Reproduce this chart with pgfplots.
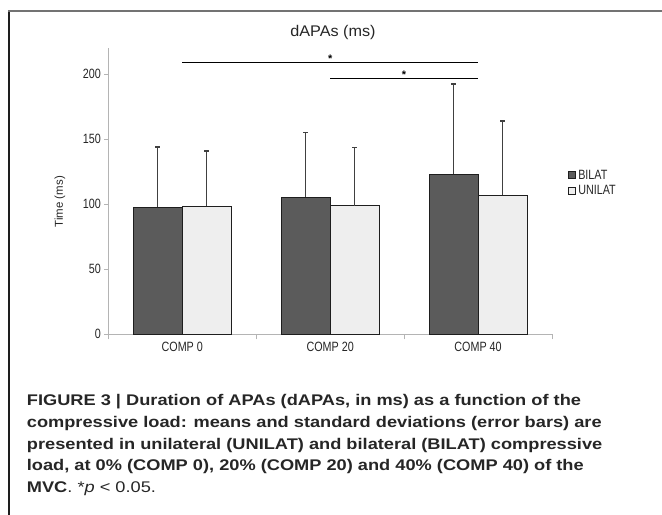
\documentclass[border=0pt]{standalone}
\usepackage{fontspec}
\setmainfont{Liberation Sans}
\newfontfamily\narrowfont[FakeStretch=0.8]{Liberation Sans}
\newfontfamily\titlefont[FakeStretch=1.05]{Liberation Sans}
\newfontfamily\capfont[FakeStretch=1.18]{Liberation Sans}
\usepackage{pgfplots}
\usepackage{pgfplotstable}
\pgfplotsset{compat=1.18}

\definecolor{bilatc}{HTML}{5B5B5B}
\definecolor{unilatc}{HTML}{EEEEEE}
\definecolor{edgec}{HTML}{1E1E1E}
\definecolor{errc}{HTML}{404040}
\definecolor{axc}{HTML}{B4B4B4}

% means and upper SD of dAPAs (ms); categories at 0.5, 1.5, 2.5
\pgfplotstableread{
x   bilat bilatsd unilat unilatsd
0.5 97.8  46.3    98.6   42.4
1.5 105.5 49.9    98.8   45.1
2.5 123.2 69.4    107.0  57.1
}\dapas

\begin{document}
\begin{tikzpicture}
\path[use as bounding box] (0bp,0bp) rectangle (662bp,515bp);
\draw[edgec, line width=1.3bp] (9bp,0bp) -- (9bp,504bp);
\draw[black!55, line width=1.5bp] (8.35bp,504bp) -- (662bp,504bp);

\begin{axis}[
  at={(108.3bp,180.7bp)}, anchor=origin,
  scale only axis, width=443.7bp, height=286bp,
  xmin=0, xmax=3, ymin=0, ymax=220,
  axis x line*=bottom, axis y line*=left,
  axis line style={draw=axc, -, line width=0.8bp},
  tick align=outside,
  xtick={0.5,1.5,2.5}, xticklabels={COMP 0,COMP 20,COMP 40},
  major x tick style={draw=none},
  minor xtick={0,1,2,3},
  minor x tick style={draw=axc, line width=0.8bp},
  minor tick length=5bp,
  ytick={0,50,100,150,200},
  y tick style={draw=axc, line width=0.8bp},
  major tick length=4bp,
  ticklabel style={font=\narrowfont\fontsize{13.5}{14}\selectfont, text=black!85},
  /pgf/number format/assume math mode=true,
  title={dAPAs (ms)},
  title style={at={(axis description cs:0.5064,1.0336)}, anchor=center,
    font=\titlefont\fontsize{15.5}{16}\selectfont, text=black!85},
  ylabel={Time (ms)},
  ylabel style={at={(axis description cs:-0.1089,0.4636)}, anchor=center,
    font=\fontsize{11.5}{12}\selectfont, text=black!85},
  legend image code/.code={\draw[#1, line width=0.8bp] (0bp,-3.5bp) rectangle (7bp,3.5bp);},
  legend style={at={(axis description cs:1.0367,0.529)}, anchor=west,
    draw=none, fill=none, inner sep=0pt, row sep=1bp,
    font=\narrowfont\fontsize{13.5}{14}\selectfont, text=black!85},
  legend cell align=left,
  clip=false,
]
\addplot[ybar, bar width=49bp, bar shift=0pt, fill=bilatc, draw=edgec, line width=0.9bp,
  error bars/.cd, y dir=plus, y explicit,
  error bar style={draw=errc, line width=0.9bp},
  error mark options={rotate=90, draw=errc, mark size=2.5bp, line width=1.3bp}]
  table[x expr=\thisrow{x}-0.1657, y=bilat, y error=bilatsd]{\dapas};
\addlegendentry{BILAT}
\addplot[ybar, bar width=49bp, bar shift=0pt, fill=unilatc, draw=edgec, line width=0.9bp,
  error bars/.cd, y dir=plus, y explicit,
  error bar style={draw=errc, line width=0.9bp},
  error mark options={rotate=90, draw=errc, mark size=2.5bp, line width=1.3bp}]
  table[x expr=\thisrow{x}+0.1657, y=unilat, y error=unilatsd]{\dapas};
\addlegendentry{UNILAT}

% significance brackets
\addplot[black, line width=1.2bp, forget plot] coordinates {(0.5,209.2) (2.5,209.2)};
\addplot[black, line width=1.2bp, forget plot] coordinates {(1.5,196.9) (2.5,196.9)};
\node[anchor=base, font=\bfseries\fontsize{11}{11}\selectfont] at (axis cs:1.5,209.2) {*};
\node[anchor=base, font=\bfseries\fontsize{11}{11}\selectfont] at (axis cs:2,196.9) {*};
\end{axis}

\begin{scope}[every node/.style={anchor=base west, inner sep=0pt,
    font=\capfont\bfseries\fontsize{15.5}{21.7}\selectfont, text=black!85}]
\node at (26.7bp,109bp) {FIGURE 3 | Duration of APAs (dAPAs, in ms) as a function of the};
\node at (26.7bp,87.3bp) {compressive load: means and standard deviations (error bars) are};
\node at (26.7bp,65.7bp) {presented in unilateral (UNILAT) and bilateral (BILAT) compressive};
\node at (26.7bp,44bp) {load, at 0\% (COMP 0), 20\% (COMP 20) and 40\% (COMP 40) of the};
\node at (26.7bp,22.3bp) {MVC\textmd{. *\textit{p} < 0.05.}};
\end{scope}
\end{tikzpicture}
\end{document}
